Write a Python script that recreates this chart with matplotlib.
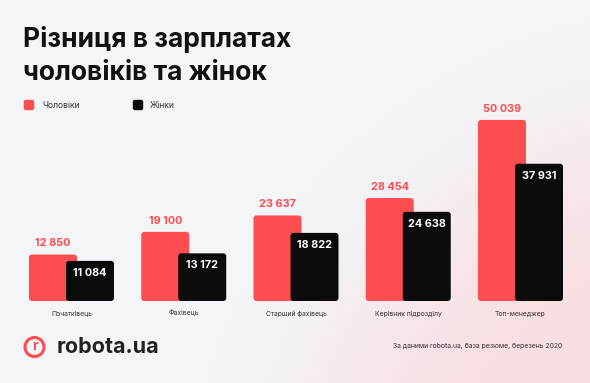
import numpy as np
import matplotlib
matplotlib.use("Agg")
import matplotlib.pyplot as plt
from matplotlib.patches import Circle, FancyBboxPatch

categories = ["Початківець", "Фахівець", "Старший фахівець", "Керівник підрозділу", "Топ-менеджер"]
men = [12850, 19100, 23637, 28454, 50039]
women = [11084, 13172, 18822, 24638, 37931]
men_labels = ["12 850", "19 100", "23 637", "28 454", "50 039"]
women_labels = ["11 084", "13 172", "18 822", "24 638", "37 931"]
title_lines = ["Різниця в зарплатах", "чоловіків та жінок"]
legend_names = ["Чоловіки", "Жінки"]
source = "За даними robota.ua, база резюме, березень 2020"

RED = "#fd4d50"
BLACK = "#0b0b0b"
W, H = 590, 383
plt.rcParams['font.family'] = ['Inter', 'DejaVu Sans']

fig = plt.figure(figsize=(W / 100, H / 100), dpi=100)

# background with soft pink glow bottom-right
bg = fig.add_axes([0, 0, 1, 1])
bg.set_xlim(0, W)
bg.set_ylim(H, 0)
bg.axis("off")
yy, xx = np.mgrid[0:H, 0:W]
d = np.sqrt((xx - 700) ** 2 + (yy - 520) ** 2)
t = np.clip((520 - d) / 260, 0, 1)
t = t * t * (3 - 2 * t)
base = np.array([0.953, 0.961, 0.973])
pink = np.array([0.975, 0.880, 0.890])
img = base[None, None, :] * (1 - t[..., None]) + pink[None, None, :] * t[..., None]
bg.imshow(img, extent=(0, W, H, 0), aspect="auto", zorder=0)

# title
bg.text(23, 47, title_lines[0], fontsize=19, fontweight="bold", color="#111111", va="baseline")
bg.text(23, 79.5, title_lines[1], fontsize=19, fontweight="bold", color="#111111", va="baseline")

# legend
bg.add_patch(FancyBboxPatch((24.5, 100.5), 9, 9, boxstyle="round,pad=0,rounding_size=1.5", color=RED, zorder=2))
bg.text(42, 105.5, legend_names[0], fontsize=6.2, color="#333333", va="center")
bg.add_patch(FancyBboxPatch((133.5, 100.5), 9, 9, boxstyle="round,pad=0,rounding_size=1.5", color=BLACK, zorder=2))
bg.text(150, 105.5, legend_names[1], fontsize=6.2, color="#333333", va="center")

# footer logo
bg.add_patch(Circle((34.5, 347), 9.5, fill=False, edgecolor=RED, linewidth=2.2, zorder=2))
bg.text(34.8, 346.5, "r", fontsize=10, fontweight="bold", color=RED, ha="center", va="center")
bg.text(57, 347, "robota.ua", fontsize=15.5, fontweight="bold", color="#222222", va="center")
bg.text(562, 346, source, fontsize=4.95, color="#333333", ha="right", va="center")

# bar axes
x0, step = 71.5, 112.25
ymax = 55000
ax_h = 199
ax = fig.add_axes([0, 82 / H, 1, ax_h / H])
ax.set_facecolor("none")
ax.set_xlim(-x0 / step, (W - x0) / step)
ax.set_ylim(0, ymax)
ax.axis("off")
x = np.arange(len(categories))
bw = 48 / step
off = 18.5 / step
bars_m = ax.bar(x - off, men, width=bw, color=RED, zorder=2)
bars_w = ax.bar(x + off, women, width=bw, color=BLACK, zorder=3)

# round the bar corners (keeping each bar's own geometry from the axes)
r_px = 3.0
rx = r_px / step
aspect = (ymax / ax_h) / (1 / step)
for bars, col, z in ((bars_m, RED, 2), (bars_w, BLACK, 3)):
    for rect in bars:
        bx, by = rect.get_x(), rect.get_y()
        bwid, bh = rect.get_width(), rect.get_height()
        rect.set_visible(False)
        ax.add_patch(FancyBboxPatch((bx, by), bwid, bh,
                                    boxstyle=f"round,pad=0,rounding_size={rx}",
                                    mutation_aspect=aspect, facecolor=col, edgecolor="none", zorder=z))

ax.plot([-0.48, len(categories) - 0.52], [0, 0], color="#c9c9c9", linestyle=(0, (1, 1.5)), linewidth=0.8, zorder=1)

for i in range(len(categories)):
    ax.annotate(men_labels[i], (x[i] - off, men[i]), xytext=(0, 4.5), textcoords="offset points",
                ha="center", va="bottom", fontsize=7.8, fontweight="bold", color=RED)
    ax.annotate(women_labels[i], (x[i] + off, women[i]), xytext=(0, -5), textcoords="offset points",
                ha="center", va="top", fontsize=7.8, fontweight="bold", color="white", zorder=4)
    ax.annotate(categories[i], (x[i], 0), xytext=(0, -9), textcoords="offset points",
                ha="center", va="center", fontsize=4.9, color="#333333")

fig.savefig("out.png", dpi=100)
